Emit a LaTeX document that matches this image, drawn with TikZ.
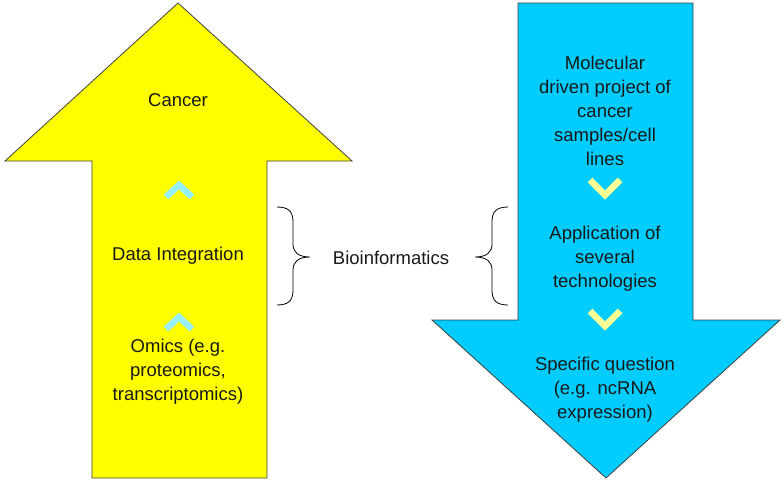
\documentclass[tikz,border=0pt]{standalone}
\usepackage{fontspec}
\setmainfont{Liberation Sans}
\definecolor{upyellow}{RGB}{255,255,0}
\definecolor{downblue}{RGB}{0,204,255}
\definecolor{palecyan}{RGB}{150,240,255}
\definecolor{paleyellow}{RGB}{255,255,150}
\definecolor{txtgrey}{RGB}{25,25,25}

\begin{document}
\begin{tikzpicture}[x=1pt, y=-1pt,
  label/.style={align=center, inner sep=0pt, text=txtgrey, font=\fontsize{18.5}{24}\selectfont},
  chevron/.style={line width=6.5pt, miter limit=10}]
\useasboundingbox (0,0) rectangle (784,482);
%Arrows
\draw [fill=upyellow, draw=black!75, line width=0.8pt] (178,3) -- (352,161) -- (267,161) -- (267,478) -- (92,478) -- (92,161) -- (5,161) -- cycle;
\draw [fill=downblue, draw=black!75, line width=0.8pt] (518,3) -- (693,3) -- (693,320) -- (780,320) -- (606,478) -- (432,320) -- (518,320) -- cycle;
%Chevrons
\draw [chevron, palecyan] (166,197) -- (179,185) -- (192,197);
\draw [chevron, palecyan] (166,329) -- (179,317) -- (192,329);
\draw [chevron, paleyellow] (590,180) -- (605,195) -- (620,180);
\draw [chevron, paleyellow] (590,311) -- (605,326) -- (620,311);
%Braces
\draw [line width=0.8pt] (277,207) .. controls (289,207) and (293,212) .. (293,222) -- (293,244) .. controls (293,252) and (298,257) .. (310,257) .. controls (298,257) and (293,262) .. (293,270) -- (293,290) .. controls (293,300) and (289,305) .. (277,305);
\draw [line width=0.8pt] (508,207) .. controls (496,207) and (492,212) .. (492,222) -- (492,244) .. controls (492,252) and (487,257) .. (475,257) .. controls (487,257) and (492,262) .. (492,270) -- (492,290) .. controls (492,300) and (496,305) .. (508,305);
%Text
\node [label] (cancer) at (178,100) {Cancer};
\node [label] (integration) at (178,256) {Data Integration};
\node [label] (omics) at (178,372) {Omics (e.g.\\proteomics,\\transcriptomics)};
\node [label] (bioinf) at (391,258) {Bioinformatics};
\node [label] (project) at (605,111) {Molecular\\driven project of\\cancer\\samples/cell\\lines};
\node [label] (technologies) at (605,259) {Application of\\several\\technologies};
\node [label] (question) at (605,390) {Specific question\\(e.g. ncRNA\\expression)};
\end{tikzpicture}
\end{document}
